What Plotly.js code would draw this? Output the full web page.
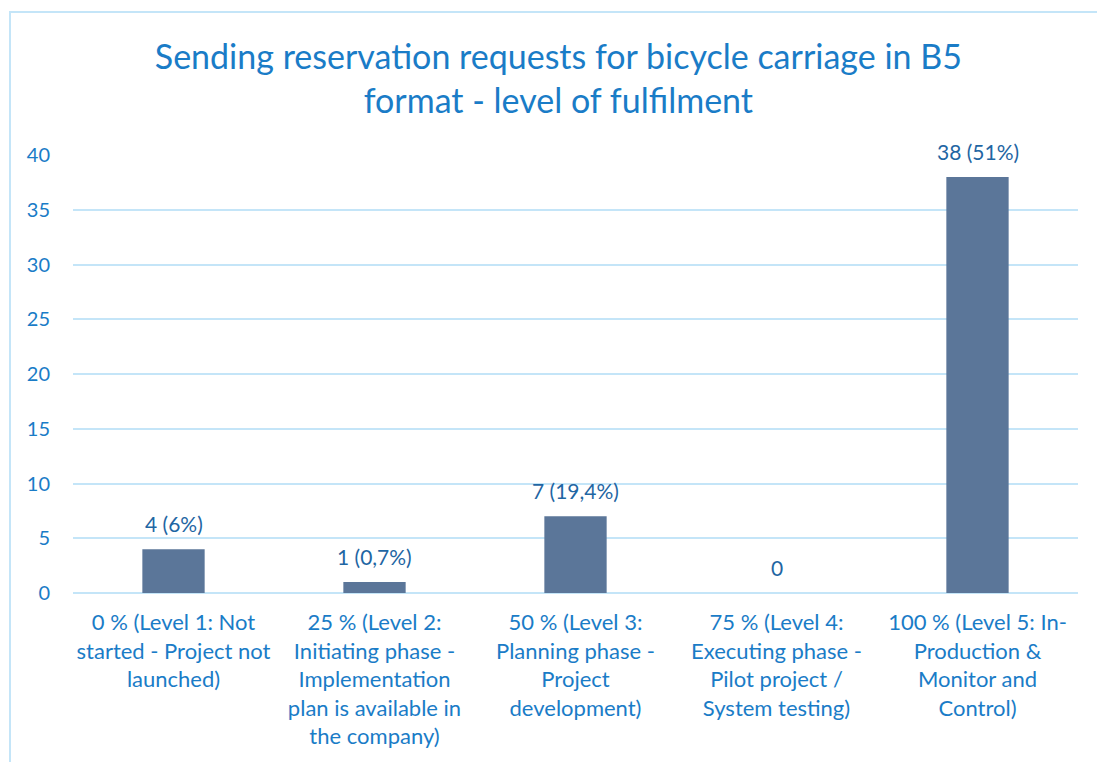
<!DOCTYPE html>
<html lang="en">
<head>
    <meta charset="UTF-8">
    <title>Sending reservation requests for bicycle carriage in B5 format</title>
    <script src="https://cdn.plot.ly/plotly-3.0.1.min.js"></script>
    <style>
        body {
            margin: 0;
            padding: 0;
            background: white;
            overflow: hidden;
        }
        #frame {
            position: absolute;
            left: 9px;
            top: 11px;
            width: 1100px;
            height: 760px;
            border-left: 2px solid #C4E5F8;
            border-top: 2px solid #C4E5F8;
            pointer-events: none;
        }
        #plot {
            position: absolute;
            left: 0;
            top: 0;
            width: 1097px;
            height: 762px;
        }
    </style>
</head>
<body>
    <div id="plot"></div>
    <div id="frame"></div>

    <script>
        const categories = [
            '0 % (Level 1: Not<br>started - Project not<br>launched)',
            '25 % (Level 2:<br>Initiating phase -<br>Implementation<br>plan is available in<br>the company)',
            '50 % (Level 3:<br>Planning phase -<br>Project<br>development)',
            '75 % (Level 4:<br>Executing phase -<br>Pilot project /<br>System testing)',
            '100 % (Level 5: In-<br>Production &<br>Monitor and<br>Control)'
        ];
        const counts = [4, 1, 7, 0, 38];
        const barLabels = ['4 (6%)', '1 (0,7%)', '7 (19,4%)', '0', '38 (51%)'];
        const yTicks = [0, 5, 10, 15, 20, 25, 30, 35, 40];

        const blue = '#1A7CC7';
        const gridBlue = '#C4E5F8';
        const fontFamily = 'Lato, "Open Sans", sans-serif';

        const trace = {
            x: categories,
            y: counts,
            type: 'bar',
            marker: { color: '#5B7699' },
            hoverinfo: 'none'
        };

        // value labels sit a bit above each bar
        const annotations = counts.map((v, i) => ({
            x: categories[i],
            y: v,
            xref: 'x',
            yref: 'y',
            text: barLabels[i],
            showarrow: false,
            yanchor: 'bottom',
            yshift: 11,
            font: { family: fontFamily, size: 21, color: '#1F66A3' }
        }));

        const layout = {
            width: 1097,
            height: 762,
            title: {
                text: 'Sending reservation requests for bicycle carriage in B5<br>format - level of fulfilment',
                font: { family: fontFamily, size: 34, color: blue },
                x: 0.509,
                xanchor: 'center',
                y: 0.91,
                yref: 'container',
                yanchor: 'top'
            },
            xaxis: {
                showgrid: false,
                showline: false,
                zeroline: false,
                ticks: '',
                tickangle: 0,
                ticklabelstandoff: 14,
                tickfont: { family: fontFamily, size: 22, color: blue },
                fixedrange: true
            },
            yaxis: {
                range: [0, 40],
                tickvals: yTicks,
                showgrid: true,
                gridcolor: gridBlue,
                gridwidth: 2,
                zeroline: true,
                zerolinecolor: gridBlue,
                zerolinewidth: 2,
                showline: false,
                ticks: '',
                ticklabelstandoff: 22,
                tickfont: { family: fontFamily, size: 20, color: blue },
                fixedrange: true
            },
            bargap: 0.69,
            annotations: annotations,
            showlegend: false,
            plot_bgcolor: 'rgba(0,0,0,0)',
            paper_bgcolor: 'white',
            margin: { l: 73, r: 19, t: 155, b: 169 }
        };

        Plotly.newPlot('plot', [trace], layout, { staticPlot: true, displayModeBar: false });
    </script>
</body>
</html>
